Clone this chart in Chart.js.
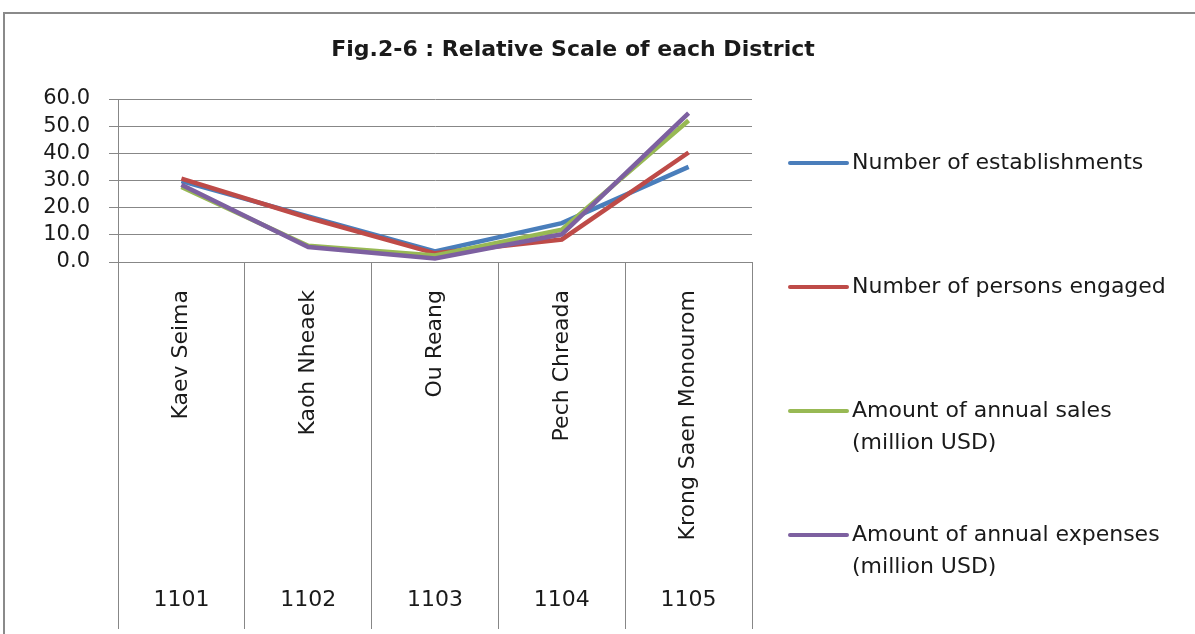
<!DOCTYPE html>
<html>
<head>
<meta charset="utf-8">
<script src="https://cdn.jsdelivr.net/npm/chart.js@4.4.0/dist/chart.umd.min.js"></script>
<style>
  html, body { margin: 0; padding: 0; background: #fff; }
</style>
</head>
<body>
<canvas id="lineChart" width="1195" height="634"></canvas>
<script>
// data
const districts = ["Kaev Seima", "Kaoh Nheaek", "Ou Reang", "Pech Chreada", "Krong Saen Monourom"];
const districtCodes = ["1101", "1102", "1103", "1104", "1105"];
const establishments = [29.8, 16.8, 3.9, 14.3, 35.0];
const personsEngaged = [30.7, 16.3, 3.2, 8.3, 40.3];
const annualSales = [27.6, 6.0, 2.4, 11.9, 52.1];
const annualExpenses = [28.4, 5.5, 1.3, 10.2, 54.8];
const yTicks = [0, 10, 20, 30, 40, 50, 60];
const seriesNames = [
  ["Number of establishments"],
  ["Number of persons engaged"],
  ["Amount of annual sales", "(million USD)"],
  ["Amount of annual expenses", "(million USD)"]
];
const seriesColors = ["#4a7ebb", "#be4b48", "#98b954", "#7d60a0"];

const gridGray = "#878787";
Chart.defaults.font.family = "'DejaVu Sans', sans-serif";
Chart.defaults.color = "#1a1a1a";

// frame, title, category table and legend
const sheetDecor = {
  id: "sheetDecor",
  beforeDraw(chart) {
    const ctx = chart.ctx;
    ctx.save();
    ctx.strokeStyle = "#8a8a8a";
    ctx.lineWidth = 2;
    ctx.strokeRect(4, 13, 1300, 700);
    ctx.restore();
  },
  afterDraw(chart) {
    const ctx = chart.ctx;
    const xs = chart.scales.x;
    ctx.save();

    ctx.fillStyle = "#1a1a1a";
    ctx.font = "bold 22px 'DejaVu Sans'";
    ctx.textAlign = "center";
    ctx.textBaseline = "middle";
    ctx.fillText("Fig.2-6 : Relative Scale of each District", 573, 50);

    ctx.font = "22px 'DejaVu Sans'";
    districts.forEach((name, i) => {
      const x = xs.getPixelForValue(i);
      ctx.save();
      ctx.translate(x, 290);
      ctx.rotate(-Math.PI / 2);
      ctx.textAlign = "right";
      ctx.textBaseline = "middle";
      ctx.fillText(name, 0, 0);
      ctx.restore();
      ctx.textAlign = "center";
      ctx.fillText(districtCodes[i], x, 600);
    });

    const rows = [163, 287, 411, 535];
    ctx.font = "22px 'DejaVu Sans'";
    ctx.textAlign = "left";
    ctx.textBaseline = "middle";
    chart.data.datasets.forEach((ds, i) => {
      const y = rows[i];
      ctx.strokeStyle = ds.borderColor;
      ctx.lineWidth = 4;
      ctx.lineCap = "round";
      ctx.beginPath();
      ctx.moveTo(790, y);
      ctx.lineTo(847, y);
      ctx.stroke();
      seriesNames[i].forEach((line, k) => {
        ctx.fillText(line, 852, y + k * 32);
      });
    });
    ctx.restore();
  }
};

const seriesData = [establishments, personsEngaged, annualSales, annualExpenses];

new Chart(document.getElementById("lineChart"), {
  type: "line",
  data: {
    labels: districts,
    datasets: seriesData.map((values, i) => ({
      label: seriesNames[i].join(" "),
      data: values,
      borderColor: seriesColors[i],
      backgroundColor: seriesColors[i],
      borderWidth: 4.5,
      pointRadius: 0,
      tension: 0,
      order: 3 - i
    }))
  },
  options: {
    responsive: false,
    animation: false,
    layout: { padding: { top: 99, right: 443, bottom: 5, left: 0 } },
    plugins: {
      legend: { display: false },
      title: { display: false },
      tooltip: { enabled: false }
    },
    scales: {
      x: {
        offset: true,
        ticks: { display: false },
        grid: {
          offset: true,
          drawOnChartArea: false,
          drawTicks: true,
          tickLength: 367,
          color: gridGray
        },
        border: { color: gridGray }
      },
      y: {
        min: yTicks[0],
        max: yTicks[yTicks.length - 1],
        afterFit(scale) { scale.width = 118; },
        afterBuildTicks(scale) { scale.ticks = yTicks.map(v => ({ value: v })); },
        ticks: {
          autoSkip: false,
          padding: 19,
          font: { size: 21 },
          color: "#1a1a1a",
          callback: v => v.toFixed(1)
        },
        grid: { color: gridGray, tickLength: 9 },
        border: { color: gridGray }
      }
    }
  },
  plugins: [sheetDecor]
});
</script>
</body>
</html>
